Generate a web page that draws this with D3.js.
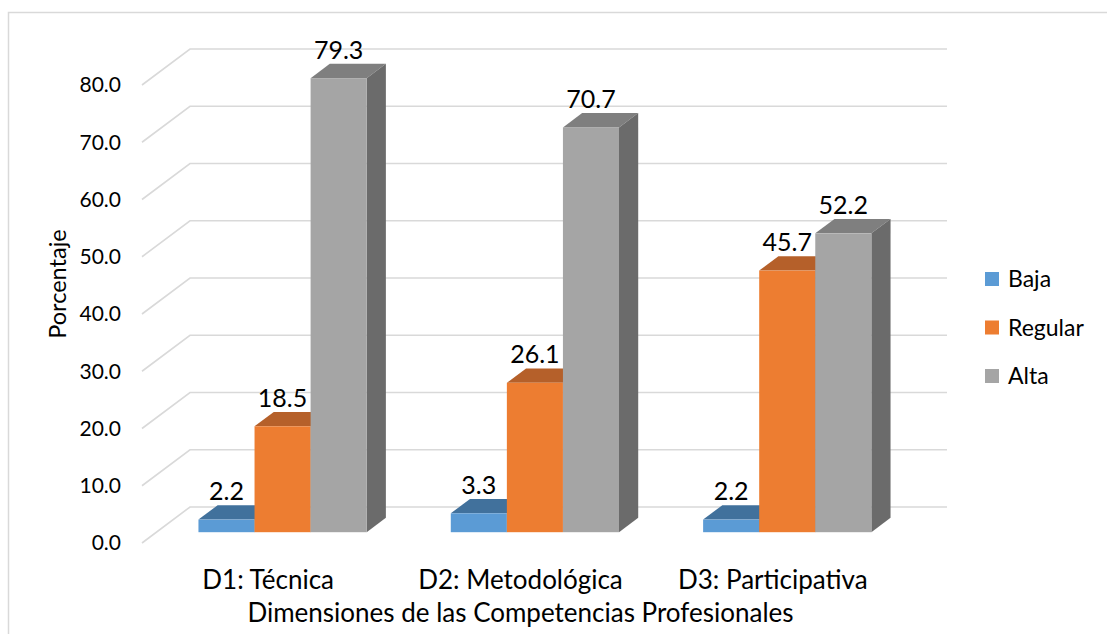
<!DOCTYPE html>
<html>
<head>
<meta charset="utf-8">
<script src="https://cdn.jsdelivr.net/npm/d3@7"></script>
<style>
  html, body { margin: 0; padding: 0; background: #fff; }
  svg { display: block; }
  text { font-family: Lato, "Open Sans", sans-serif; fill: #000; }
</style>
</head>
<body>
<svg id="chart" width="1107" height="634"></svg>
<script>
// ---- data ----
const categories = ["D1: Técnica", "D2: Metodológica", "D3: Participativa"];
const seriesNames = ["Baja", "Regular", "Alta"];
const baja = [2.2, 3.3, 2.2];
const regular = [18.5, 26.1, 45.7];
const alta = [79.3, 70.7, 52.2];
const yTicks = [0, 10, 20, 30, 40, 50, 60, 70, 80];
const seriesValues = [baja, regular, alta];

// colours: front, top, side
const frontColors = ["#5B9BD5", "#ED7D31", "#A5A5A5"];
const topColors = ["#41719C", "#B5602A", "#7F7F7F"];
const sideColors = ["#3A6690", "#A0521F", "#6B6B6B"];

// ---- layout ----
const svg = d3.select("#chart");
const frontLeft = 142, frontRight = 899;
const depth = { x: 48, y: -36 };     // full depth vector of the floor / side wall
const barF0 = 0.3, barF1 = 0.7;       // bar front/back depth fraction

const y = d3.scaleLinear().domain([0, 80]).range([543, 85]);
const x0 = d3.scaleBand().domain(categories).range([frontLeft, frontRight])
  .paddingInner(1 / 3).paddingOuter(1 / 6);
const x1 = d3.scaleBand().domain(seriesNames).range([0, x0.bandwidth()]);

// chart border
svg.append("rect").attr("x", 8.5).attr("y", 12.5).attr("width", 1200).attr("height", 700)
  .attr("fill", "none").attr("stroke", "#D9D9D9").attr("stroke-width", 1.5);

// gridlines: side wall diagonals + back wall
const grid = svg.append("g").attr("stroke", "#D9D9D9").attr("stroke-width", 1.6).attr("fill", "none");
yTicks.forEach(t => {
  const yf = y(t);
  grid.append("path").attr("d",
    `M${frontLeft},${yf} L${frontLeft + depth.x},${yf + depth.y} L${frontRight + depth.x},${yf + depth.y}`);
});

// y tick labels
svg.append("g").selectAll("text").data(yTicks).join("text")
  .attr("x", 121).attr("y", d => y(d)).attr("dy", "0.35em")
  .attr("text-anchor", "end").style("font-size", "21px")
  .text(d => d.toFixed(1));

// bars
const bars = svg.append("g");
const labels = [];
categories.forEach((c, ci) => {
  seriesNames.forEach((s, si) => {
    const v = seriesValues[si][ci];
    const w = x1.bandwidth();
    const fx = x0(c) + x1(s) + barF0 * depth.x;
    const fyTop = y(v) + barF0 * depth.y;
    const fyBot = y(0) + barF0 * depth.y;
    const dx = (barF1 - barF0) * depth.x, dy = (barF1 - barF0) * depth.y;
    // top face
    bars.append("path").attr("fill", topColors[si]).attr("d",
      `M${fx},${fyTop} L${fx + w},${fyTop} L${fx + w + dx},${fyTop + dy} L${fx + dx},${fyTop + dy} Z`);
    // side face
    bars.append("path").attr("fill", sideColors[si]).attr("d",
      `M${fx + w},${fyTop} L${fx + w + dx},${fyTop + dy} L${fx + w + dx},${fyBot + dy} L${fx + w},${fyBot} Z`);
    // front face
    bars.append("rect").attr("fill", frontColors[si])
      .attr("x", fx).attr("y", fyTop).attr("width", w).attr("height", fyBot - fyTop);
    labels.push({ x: fx + w / 2, y: fyTop + dy - 5, v });
  });
});

// data labels
svg.append("g").selectAll("text").data(labels).join("text")
  .attr("x", d => d.x).attr("y", d => d.y).attr("text-anchor", "middle")
  .style("font-size", "25px").text(d => d.v.toFixed(1));

// category labels
svg.append("g").selectAll("text").data(categories).join("text")
  .attr("x", d => x0(d) + x0.bandwidth() / 2).attr("y", 589)
  .attr("text-anchor", "middle").style("font-size", "26px").text(d => d);

// axis titles
svg.append("text").attr("x", (frontLeft + frontRight) / 2).attr("y", 622)
  .attr("text-anchor", "middle").style("font-size", "26px")
  .text("Dimensiones de las Competencias Profesionales");
svg.append("text").attr("transform", "translate(66,284) rotate(-90)")
  .attr("text-anchor", "middle").style("font-size", "23.5px").text("Porcentaje");

// legend
const legend = svg.append("g").selectAll("g").data(seriesNames).join("g")
  .attr("transform", (d, i) => `translate(985,${279 + i * 48.5})`);
legend.append("rect").attr("x", 0).attr("y", -7).attr("width", 14).attr("height", 14)
  .attr("fill", (d, i) => frontColors[i]);
legend.append("text").attr("x", 23).attr("y", 0).attr("dy", "0.35em")
  .style("font-size", "23px").text(d => d);
</script>
</body>
</html>
